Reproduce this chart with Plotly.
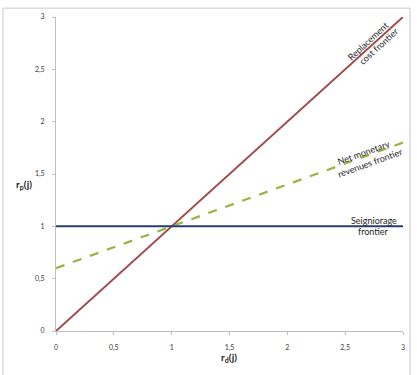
import plotly.graph_objects as go

x_vals = [0, 3]
replacement = [0, 3]
net_monetary = [0.6, 1.8]
seigniorage = [1, 1]
tick_vals = [0, 0.5, 1, 1.5, 2, 2.5, 3]
tick_text = ["0", "0,5", "1", "1,5", "2", "2,5", "3"]

fig = go.Figure()
fig.add_trace(go.Scatter(x=x_vals, y=replacement, mode="lines",
                         line=dict(color="#A3494A", width=2)))
fig.add_trace(go.Scatter(x=x_vals, y=net_monetary, mode="lines",
                         line=dict(color="#9BB140", width=2.2, dash="dash")))
fig.add_trace(go.Scatter(x=x_vals, y=seigniorage, mode="lines",
                         line=dict(color="#243F73", width=2)))

font = "Lato, Carlito, Open Sans, sans-serif"
axis_common = dict(range=[0, 3], tickvals=tick_vals, ticktext=tick_text,
                   showgrid=False, zeroline=False, showline=True,
                   linecolor="#BFBFBF", linewidth=1, ticks="outside",
                   ticklen=3, tickcolor="#BFBFBF",
                   tickfont=dict(size=7, color="#404040", family=font))

ann_font = dict(size=9, family=font, color="#262626")
fig.update_layout(
    width=417, height=375,
    margin=dict(l=56, r=14, t=12, b=44),
    paper_bgcolor="white", plot_bgcolor="white",
    showlegend=False,
    xaxis=dict(axis_common, ticklabelstandoff=7),
    yaxis=dict(axis_common, ticklabelstandoff=6),
    shapes=[
        dict(type="rect", xref="paper", yref="paper",
             x0=(3 - 56) / 347, x1=(410 - 56) / 347,
             y0=(331 - 380) / 319, y1=(331 - 3) / 319,
             line=dict(color="#C8C8C8", width=1), fillcolor="rgba(0,0,0,0)", layer="below"),
    ],
)

labels = [
    ("Replacement", 2.701, 2.778, -42.6),
    ("cost frontier", 2.785, 2.722, -42.6),
    ("Net monetary", 2.656, 1.707, -20),
    ("revenues frontier", 2.720, 1.607, -20),
    ("Seigniorage", 2.753, 1.055, 0),
    ("frontier", 2.749, 0.948, 0),
]
for txt, lx, ly, ang in labels:
    fig.add_annotation(x=lx, y=ly, xref="x", yref="y", text=txt,
                       xanchor="center", yanchor="middle",
                       showarrow=False, textangle=ang, font=ann_font)

fig.add_annotation(x=(24 - 56) / 347, y=(331 - 182) / 319, xref="paper", yref="paper",
                   text="<b>r<sub>p</sub>(j)</b>", showarrow=False,
                   xanchor="center", yanchor="middle",
                   font=dict(size=10, family=font, color="#262626"))
fig.add_annotation(x=(229 - 56) / 347, y=(331 - 358) / 319, xref="paper", yref="paper",
                   text="<b>r<sub>d</sub>(j)</b>", showarrow=False,
                   xanchor="center", yanchor="middle",
                   font=dict(size=10, family=font, color="#262626"))

fig.write_html("out.html")
